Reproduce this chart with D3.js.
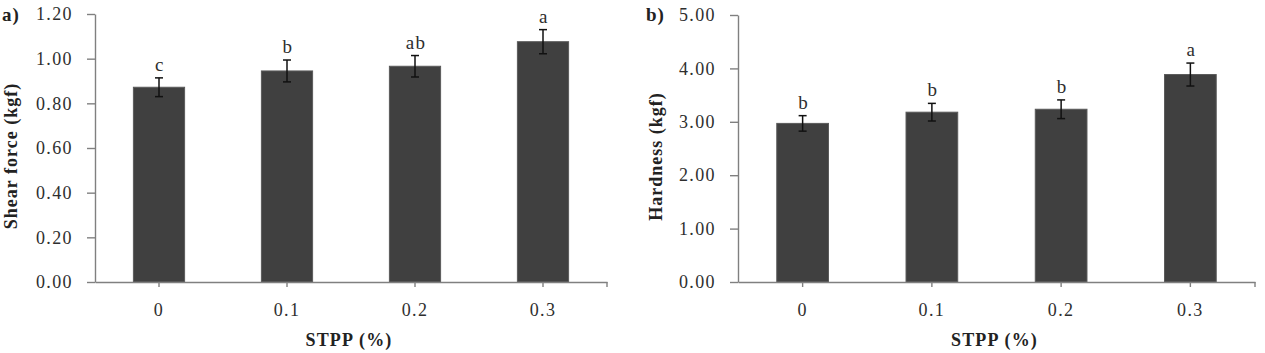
<!DOCTYPE html>
<html>
<head>
<meta charset="utf-8">
<script src="https://cdn.jsdelivr.net/npm/d3@7"></script>
<style>
  body { margin: 0; background: #fff; }
  text { font-family: "Liberation Serif", "Times New Roman", serif; }
</style>
</head>
<body>
<div id="chart"></div>
<script>
var width = 1265,
  height = 353

// data
var stppLevels = ['0', '0.1', '0.2', '0.3']
var shearMeans = [0.872, 0.945, 0.966, 1.076]
var shearErrors = [0.042, 0.049, 0.048, 0.054]
var shearLetters = ['c', 'b', 'ab', 'a']
var shearTicks = [0, 0.2, 0.4, 0.6, 0.8, 1.0, 1.2]

var hardMeans = [2.97, 3.18, 3.235, 3.885]
var hardErrors = [0.145, 0.165, 0.175, 0.215]
var hardLetters = ['b', 'b', 'b', 'a']
var hardTicks = [0, 1, 2, 3, 4, 5]

var svg = d3.select('#chart')
  .append('svg')
  .attr('width', width)
  .attr('height', height)

function drawPanel(opt) {
  var rows = stppLevels.map(function(c, i) {
    return { cat: c, mean: opt.means[i], err: opt.errors[i], letter: opt.letters[i] }
  })

  var xScale = d3.scaleBand()
    .domain(stppLevels)
    .range([opt.left, opt.right])
    .paddingInner(0.6)
    .paddingOuter(0.3)

  var yScale = d3.scaleLinear()
    .domain([0, d3.max(opt.ticks)])
    .range([opt.bottom, opt.top])

  var g = svg.append('g')

  // bars
  g.selectAll('rect.bar')
    .data(rows)
    .enter()
    .append('rect')
    .attr('class', 'bar')
    .attr('x', function(d) { return xScale(d.cat) })
    .attr('y', function(d) { return yScale(d.mean) })
    .attr('width', xScale.bandwidth())
    .attr('height', function(d) { return yScale(0) - yScale(d.mean) })
    .attr('fill', '#404040')
    .attr('stroke', '#5a5a5a')
    .attr('stroke-width', 1)

  // error bars
  var eb = g.selectAll('g.err')
    .data(rows)
    .enter()
    .append('g')
    .attr('class', 'err')
    .attr('stroke', '#111')
    .attr('stroke-width', 1.5)
  eb.append('line')
    .attr('x1', function(d) { return xScale(d.cat) + xScale.bandwidth() / 2 })
    .attr('x2', function(d) { return xScale(d.cat) + xScale.bandwidth() / 2 })
    .attr('y1', function(d) { return yScale(d.mean - d.err) })
    .attr('y2', function(d) { return yScale(d.mean + d.err) })
  ;[-1, 1].forEach(function(s) {
    eb.append('line')
      .attr('x1', function(d) { return xScale(d.cat) + xScale.bandwidth() / 2 - 4 })
      .attr('x2', function(d) { return xScale(d.cat) + xScale.bandwidth() / 2 + 4 })
      .attr('y1', function(d) { return yScale(d.mean + s * d.err) })
      .attr('y2', function(d) { return yScale(d.mean + s * d.err) })
  })

  // significance letters
  g.selectAll('text.letter')
    .data(rows)
    .enter()
    .append('text')
    .attr('class', 'letter')
    .attr('x', function(d) { return xScale(d.cat) + xScale.bandwidth() / 2 + 1 })
    .attr('y', function(d) { return yScale(d.mean + d.err) - 7 })
    .attr('text-anchor', 'middle')
    .attr('font-size', '19px')
    .attr('letter-spacing', '1.4px')
    .attr('fill', '#2e2e2e')
    .text(function(d) { return d.letter })

  // axes
  var yAxis = g.append('g')
    .attr('transform', 'translate(' + opt.left + ',0)')
    .call(d3.axisLeft(yScale).tickValues(opt.ticks).tickFormat(d3.format('.2f'))
      .tickSize(8).tickSizeOuter(0).tickPadding(14))

  var xAxis = g.append('g')
    .attr('transform', 'translate(0,' + opt.bottom + ')')
    .call(d3.axisBottom(xScale).tickSize(5).tickSizeOuter(0).tickPadding(16))
  xAxis.append('line')
    .attr('x1', xScale.range()[1]).attr('x2', xScale.range()[1])
    .attr('y1', 0).attr('y2', 5)

  ;[yAxis, xAxis].forEach(function(ax) {
    ax.selectAll('path, line').attr('stroke', '#808080').attr('stroke-width', 1.4)
    ax.selectAll('text')
      .attr('font-size', '18px')
      .attr('letter-spacing', '1.4px')
      .attr('fill', '#2e2e2e')
      .style('font-family', '"Liberation Serif", serif')
  })

  // titles
  g.append('text')
    .attr('x', (opt.left + opt.right) / 2 - 2)
    .attr('y', 346)
    .attr('text-anchor', 'middle')
    .attr('font-size', '18px')
    .attr('font-weight', 'bold')
    .attr('letter-spacing', '1.2px')
    .attr('fill', '#222')
    .text('STPP (%)')

  g.append('text')
    .attr('transform', 'translate(' + opt.titleX + ',' + ((opt.top + opt.bottom) / 2 + 8) + ') rotate(-90)')
    .attr('text-anchor', 'middle')
    .attr('font-size', '18px')
    .attr('font-weight', 'bold')
    .attr('letter-spacing', '1px')
    .attr('fill', '#222')
    .text(opt.yTitle)

  g.append('text')
    .attr('x', opt.tagX)
    .attr('y', 21)
    .attr('font-size', '19px')
    .attr('font-weight', 'bold')
    .attr('letter-spacing', '1px')
    .attr('fill', '#222')
    .text(opt.tag)
}

drawPanel({
  left: 95, right: 607, top: 14, bottom: 282,
  means: shearMeans, errors: shearErrors, letters: shearLetters, ticks: shearTicks,
  yTitle: 'Shear force (kgf)', titleX: 17, tag: 'a)', tagX: 2
})

drawPanel({
  left: 738, right: 1255, top: 15, bottom: 282,
  means: hardMeans, errors: hardErrors, letters: hardLetters, ticks: hardTicks,
  yTitle: 'Hardness (kgf)', titleX: 662, tag: 'b)', tagX: 646
})
</script>
</body>
</html>
